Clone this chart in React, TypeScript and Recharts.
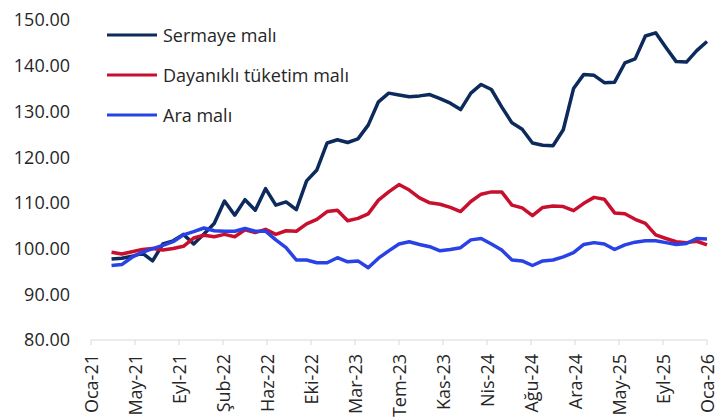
import { Line, LineChart, XAxis, YAxis } from 'recharts'

// month offset from Oca-21 of the first point (Mar-21)
const firstMonth = 2

const sermaye = [
  97.7, 97.9, 98.3, 99.0, 97.3, 101.0, 101.7, 103.1, 101.0, 103.2, 105.5, 110.4, 107.3, 110.7, 108.4, 113.1,
  109.5, 110.2, 108.5, 114.8, 117.2, 123.1, 123.8, 123.2, 124.0, 127.0, 132.1, 134.0, 133.6, 133.2, 133.4, 133.7,
  132.8, 131.8, 130.4, 134.0, 135.9, 134.8, 131.0, 127.5, 126.1, 123.1, 122.6, 122.5, 126.0, 135.0, 138.1, 137.9,
  136.3, 136.4, 140.6, 141.5, 146.5, 147.2, 144.0, 140.9, 140.8, 143.3, 145.3,
]
const dayanikli = [
  99.2, 98.8, 99.3, 99.8, 100.0, 99.7, 100.0, 100.5, 102.3, 102.9, 102.6, 103.1, 102.6, 104.1, 103.5, 104.2,
  103.1, 103.9, 103.8, 105.4, 106.4, 108.1, 108.4, 106.1, 106.6, 107.6, 110.6, 112.4, 114.0, 112.8, 111.1, 110.0,
  109.7, 109.0, 108.1, 110.3, 111.9, 112.4, 112.4, 109.5, 108.9, 107.2, 109.0, 109.3, 109.2, 108.3, 109.9, 111.2,
  110.8, 107.8, 107.6, 106.4, 105.5, 103.0, 102.2, 101.5, 101.3, 101.6, 100.8,
]
const araMali = [
  96.3, 96.5, 98.1, 99.2, 100.0, 100.7, 101.5, 103.0, 103.7, 104.5, 103.9, 103.8, 103.8, 104.4, 103.8, 103.8,
  101.9, 100.2, 97.5, 97.5, 96.9, 96.9, 98.0, 97.1, 97.3, 95.8, 97.9, 99.5, 101.0, 101.5, 100.9, 100.4,
  99.5, 99.8, 100.2, 101.9, 102.2, 101.0, 99.7, 97.5, 97.3, 96.3, 97.3, 97.5, 98.2, 99.1, 100.9, 101.3,
  101.0, 99.8, 100.8, 101.4, 101.7, 101.7, 101.3, 100.9, 101.1, 102.2, 102.1,
]

const tickLabels = [
  'Oca-21', 'May-21', 'Eyl-21', 'Şub-22', 'Haz-22', 'Eki-22', 'Mar-23', 'Tem-23',
  'Kas-23', 'Nis-24', 'Ağu-24', 'Ara-24', 'May-25', 'Eyl-25', 'Oca-26',
]
const yTicks = [80, 90, 100, 110, 120, 130, 140, 150]

const series = [
  { key: 'Sermaye malı', values: sermaye, color: '#0c2a5c' },
  { key: 'Dayanıklı tüketim malı', values: dayanikli, color: '#c8102e' },
  { key: 'Ara malı', values: araMali, color: '#2842e6' },
]

const totalMonths = 60
const xTicks = tickLabels.map((_, i) => (i * totalMonths) / (tickLabels.length - 1))

const data = sermaye.map((_, i) => {
  const row: Record<string, number> = { t: firstMonth + i }
  series.forEach((s) => { row[s.key] = s.values[i] })
  return row
})

const font = '"Open Sans", "Noto Sans", sans-serif'

function XTick({ x, y, index }: any) {
  return (
    <text
      x={x}
      y={y + 7}
      transform={`rotate(-90, ${x}, ${y + 7})`}
      textAnchor="end"
      dominantBaseline="central"
      fontSize={18}
      fontFamily={font}
      fill="#262626"
    >
      {tickLabels[index]}
    </text>
  )
}

// legend sits inside the plot, top-left, so it is drawn over the chart
function LegendBox() {
  return (
    <div style={{ position: 'absolute', left: 105, top: 15, fontFamily: font, fontSize: 18, color: '#262626' }}>
      {series.map((s) => (
        <div key={s.key} style={{ display: 'flex', alignItems: 'center', height: 40 }}>
          <svg width={58} height={10}>
            <line x1={2} x2={52} y1={5} y2={5} stroke={s.color} strokeWidth={3} />
          </svg>
          <span style={{ whiteSpace: 'nowrap' }}>{s.key}</span>
        </div>
      ))}
    </div>
  )
}

export default function App() {
  return (
    <div style={{ position: 'absolute', left: 0, top: 0, width: 721, height: 420, background: '#fff' }}>
      <LineChart width={721} height={420} data={data} margin={{ top: 20, right: 14, left: 0, bottom: 0 }}>
        <XAxis
          dataKey="t"
          type="number"
          domain={[0, totalMonths]}
          ticks={xTicks}
          interval={0}
          height={80}
          stroke="#d9d9d9"
          tickSize={5}
          tick={<XTick />}
        />
        <YAxis
          domain={[80, 150]}
          ticks={yTicks}
          width={91}
          axisLine={false}
          tickLine={false}
          tickSize={0}
          tickMargin={21}
          tickFormatter={(v: number) => v.toFixed(2)}
          tick={{ fill: '#262626', fontSize: 18, fontFamily: font }}
        />
        {series.map((s) => (
          <Line
            key={s.key}
            dataKey={s.key}
            stroke={s.color}
            strokeWidth={3.5}
            dot={false}
            type="linear"
            strokeLinejoin="round"
            isAnimationActive={false}
          />
        ))}
      </LineChart>
      <LegendBox />
    </div>
  )
}
